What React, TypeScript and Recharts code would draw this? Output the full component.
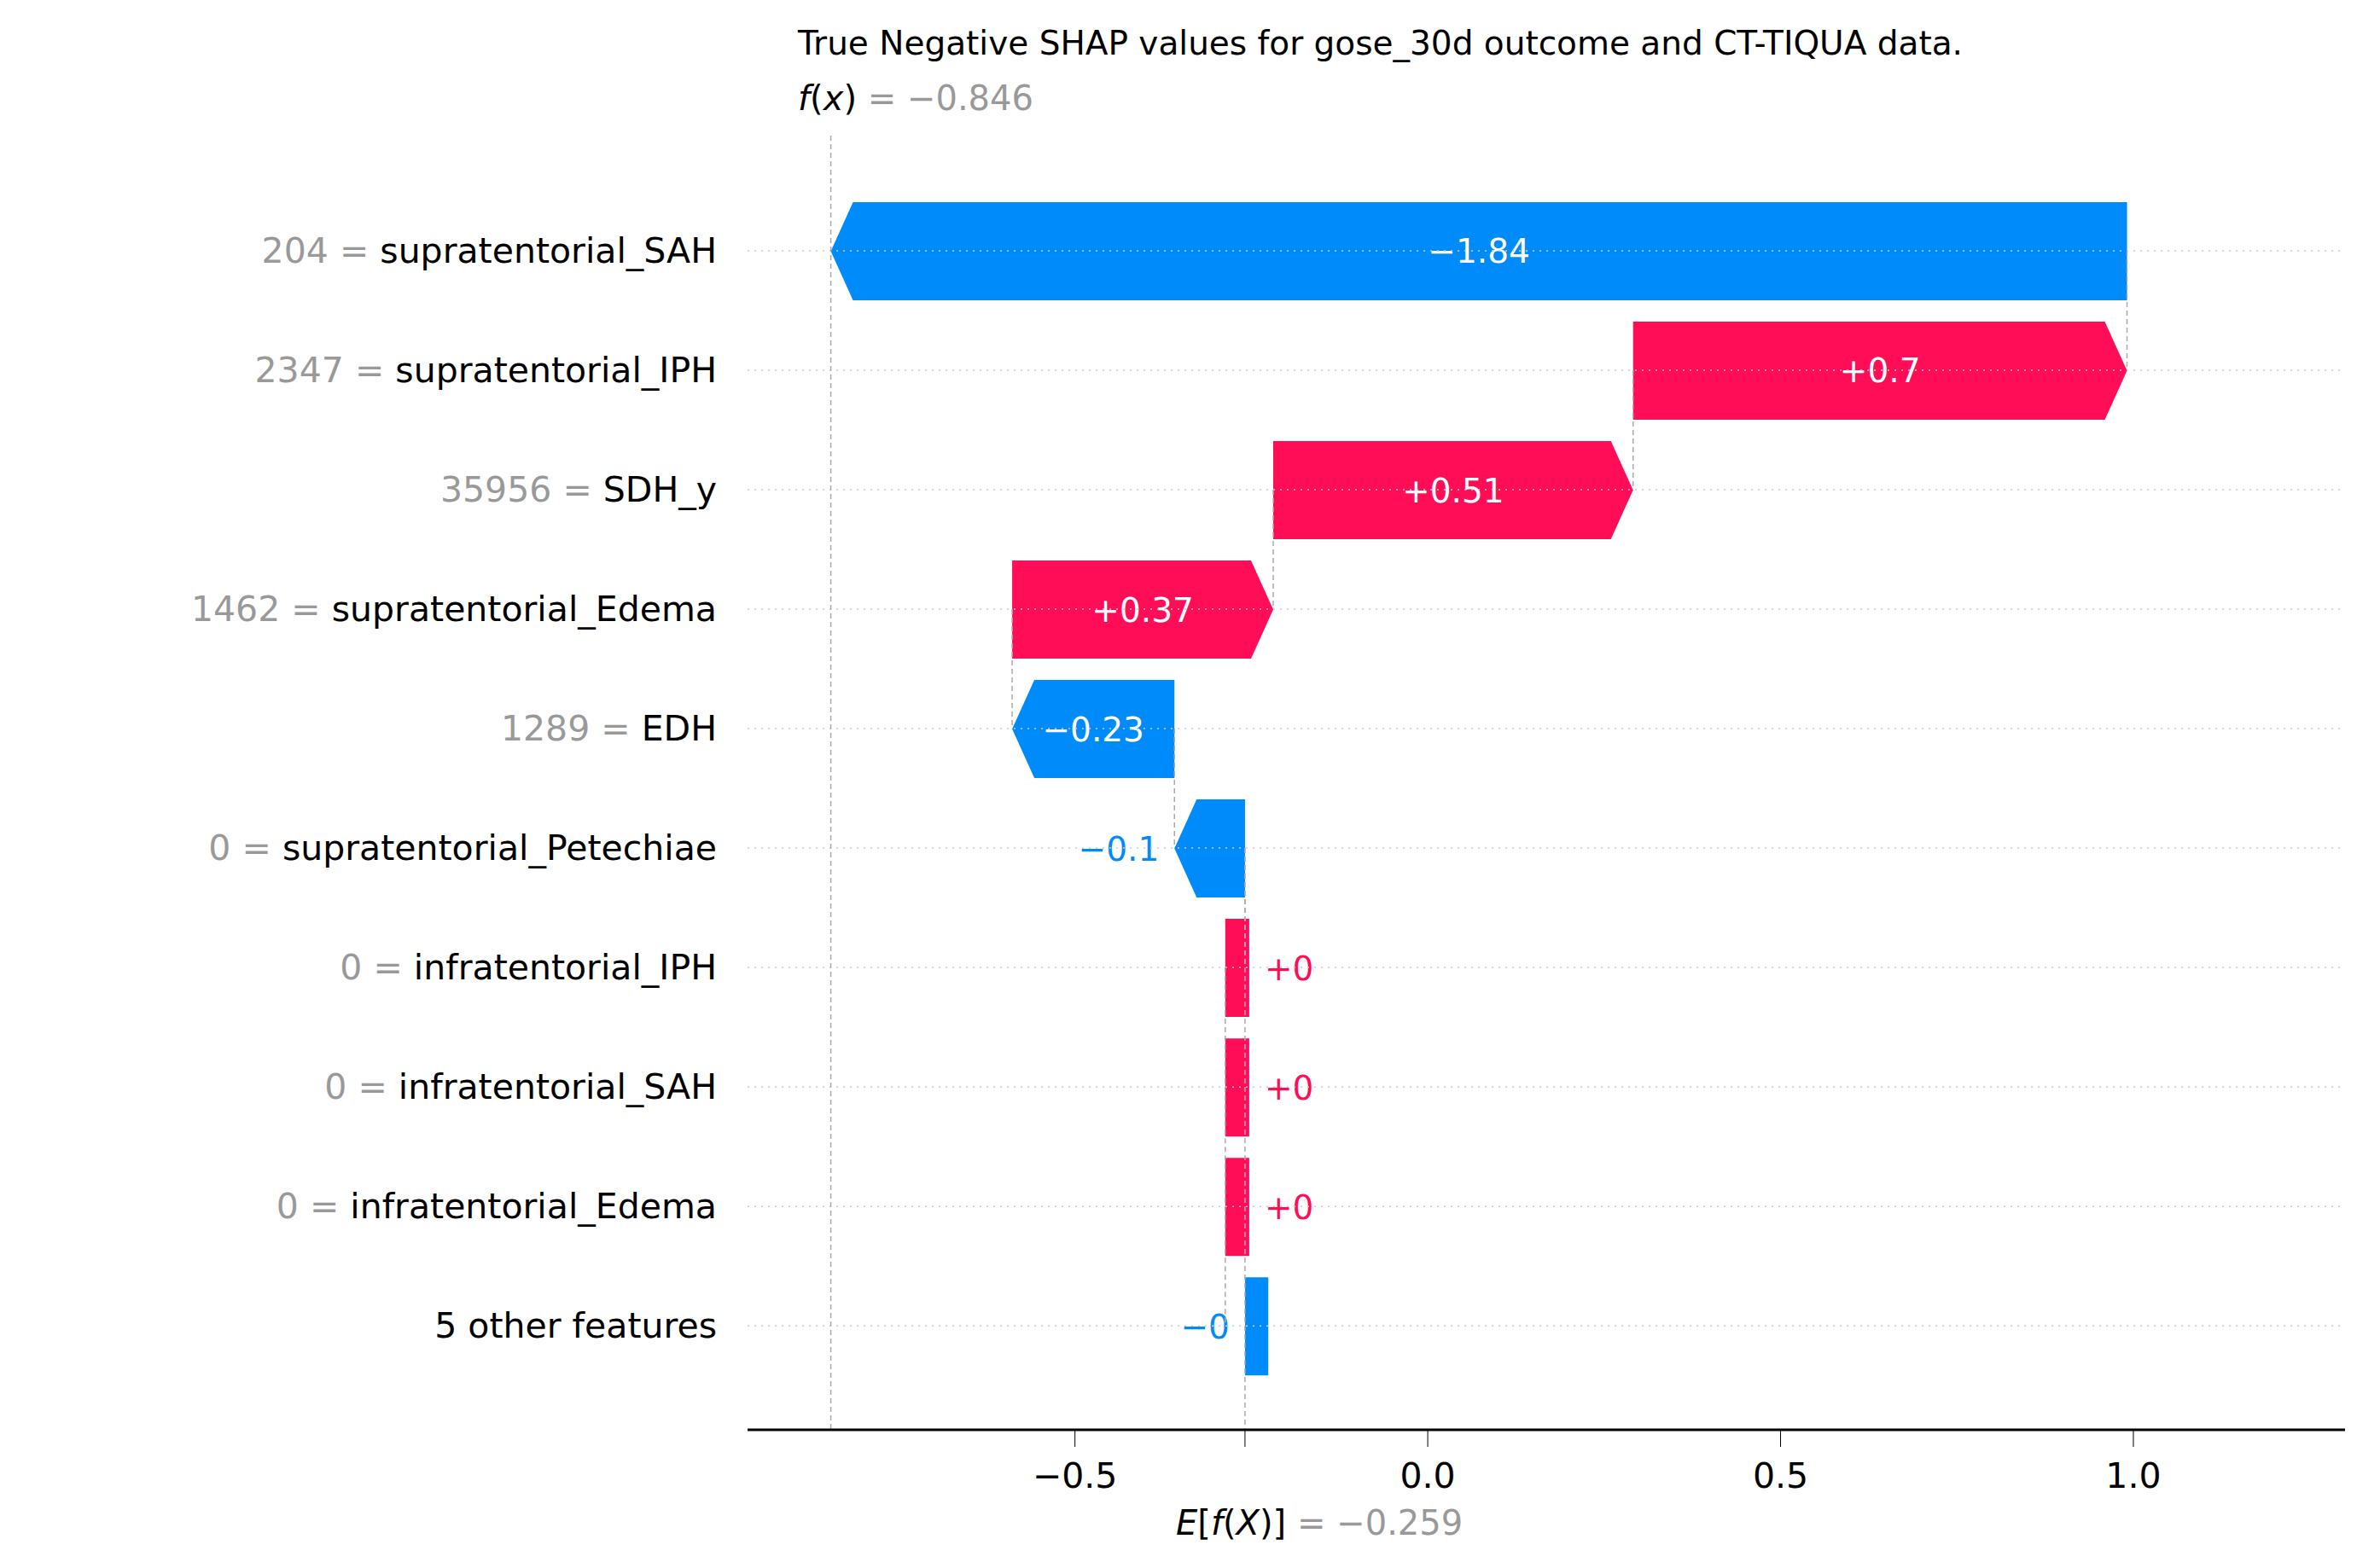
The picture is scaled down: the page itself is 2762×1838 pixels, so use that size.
import { ComposedChart, Bar, XAxis, YAxis, ReferenceLine } from "recharts";

const featureValues = ["204", "2347", "35956", "1462", "1289", "0", "0", "0", "0", ""];
const featureNames = [
  "supratentorial_SAH",
  "supratentorial_IPH",
  "SDH_y",
  "supratentorial_Edema",
  "EDH",
  "supratentorial_Petechiae",
  "infratentorial_IPH",
  "infratentorial_SAH",
  "infratentorial_Edema",
  "5 other features",
];
// start -> end of each step (bottom row starts at E[f(X)])
const starts = [0.991, 0.291, -0.219, -0.589, -0.359, -0.259, -0.287, -0.287, -0.287, -0.226];
const ends = [-0.846, 0.991, 0.291, -0.219, -0.589, -0.359, -0.253, -0.253, -0.253, -0.259];
const shapLabels = ["\u22121.84", "+0.7", "+0.51", "+0.37", "\u22120.23", "\u22120.1", "+0", "+0", "+0", "\u22120"];
const xTicks = [-0.5, -0.259, 0, 0.5, 1.0];
const baseValue = -0.259;
const outValue = -0.846;

const RED = "#ff0d57";
const BLUE = "#008bfb";
const FONT = "DejaVu Sans, sans-serif";

const data = featureNames.map((name, i) => ({
  row: i,
  name,
  value: featureValues[i],
  range: [Math.min(starts[i], ends[i]), Math.max(starts[i], ends[i])],
  positive: ends[i] > starts[i],
  label: shapLabels[i],
}));

const ArrowBar = (props: any) => {
  const { x, y, width, height, payload } = props;
  const pos = payload.positive;
  const color = pos ? RED : BLUE;
  const h = width < 40 ? 0 : 26;
  const x0 = x, x1 = x + width, y0 = y, y1 = y + height, ym = y + height / 2;
  const pts = pos
    ? `${x0},${y0} ${x1 - h},${y0} ${x1},${ym} ${x1 - h},${y1} ${x0},${y1}`
    : `${x0 + h},${y0} ${x1},${y0} ${x1},${y1} ${x0 + h},${y1} ${x0},${ym}`;
  const textW = payload.label.length * 23;
  const inside = width > textW + 40;
  let tx = x + width / 2;
  let anchor: any = "middle";
  let fill = "#fff";
  if (!inside) {
    fill = color;
    if (pos) { tx = x1 + 18; anchor = "start"; } else { tx = x0 - 18; anchor = "end"; }
  }
  return (
    <g>
      <polygon points={pts} fill={color} />
      <text x={tx} y={ym + 14} textAnchor={anchor} fill={fill} fontSize={39} fontFamily={FONT}>
        {payload.label}
      </text>
    </g>
  );
};

const YTick = (props: any) => {
  const { x, y, payload } = props;
  const d = data[payload.value];
  if (!d) return null;
  return (
    <text x={x} y={y + 14} textAnchor="end" fontSize={41} fontFamily={FONT}>
      {d.value !== "" && <tspan fill="#999">{d.value} = </tspan>}
      <tspan fill="#000">{d.name}</tspan>
    </text>
  );
};

const XTick = (props: any) => {
  const { x, y, payload } = props;
  if (Math.abs(payload.value - baseValue) < 1e-6) return null;
  const s = payload.value.toFixed(1).replace("-", "\u2212");
  return (
    <text x={x} y={y + 46} textAnchor="middle" fontSize={41} fontFamily={FONT} fill="#000">
      {s}
    </text>
  );
};

export default function App() {
  return (
    <div style={{ position: "absolute", left: 0, top: 0, width: 2762, height: 1838, background: "#fff" }}>
      <ComposedChart
        layout="vertical"
        width={2762}
        height={1838}
        data={data}
        margin={{ top: 159, right: 14, bottom: 0, left: 0 }}
      >
        <XAxis
          type="number"
          domain={[-0.964, 1.3]}
          ticks={xTicks}
          tick={<XTick />}
          tickSize={20}
          height={162}
          stroke="#000"
          axisLine={{ strokeWidth: 3 }}
          allowDataOverflow
        />
        <YAxis
          type="number"
          dataKey="row"
          domain={[-0.964, 9.87]}
          ticks={[0, 1, 2, 3, 4, 5, 6, 7, 8, 9]}
          tick={<YTick />}
          axisLine={false}
          tickLine={false}
          width={876}
          tickMargin={30}
          allowDataOverflow
        />
        {data.map((d) => (
          <ReferenceLine key={"g" + d.row} y={d.row} stroke="#ccc" strokeDasharray="2 6" strokeWidth={1.5} />
        ))}
        <ReferenceLine
          segment={[{ x: outValue, y: -0.964 }, { x: outValue, y: 9.87 }]}
          stroke="#aaa"
          strokeDasharray="6 4"
          strokeWidth={1.5}
        />
        <ReferenceLine
          segment={[{ x: baseValue, y: 5 }, { x: baseValue, y: 9.87 }]}
          stroke="#aaa"
          strokeDasharray="6 4"
          strokeWidth={1.5}
        />
        {data.slice(0, 9).map((d) => (
          <ReferenceLine
            key={"c" + d.row}
            segment={[{ x: starts[d.row], y: d.row }, { x: starts[d.row], y: d.row + 1 }]}
            stroke="#aaa"
            strokeDasharray="6 4"
            strokeWidth={1.5}
          />
        ))}
        <Bar dataKey="range" barSize={115} shape={<ArrowBar />} isAnimationActive={false} />
      </ComposedChart>
      <div style={{ position: "absolute", left: 935, top: 28, fontFamily: FONT, fontSize: 39, whiteSpace: "nowrap" }}>
        True Negative SHAP values for gose_30d outcome and CT-TIQUA data.
      </div>
      <div style={{ position: "absolute", left: 935, top: 92, fontFamily: FONT, fontSize: 40, whiteSpace: "nowrap" }}>
        <i>f</i>(<i>x</i>)<span style={{ color: "#999" }}> = {"\u2212"}0.846</span>
      </div>
      <div style={{ position: "absolute", left: 1378, top: 1762, fontFamily: FONT, fontSize: 40, whiteSpace: "nowrap" }}>
        <i>E</i>[<i>f</i>(<i>X</i>)]<span style={{ color: "#999" }}> = {"\u2212"}0.259</span>
      </div>
    </div>
  );
}
